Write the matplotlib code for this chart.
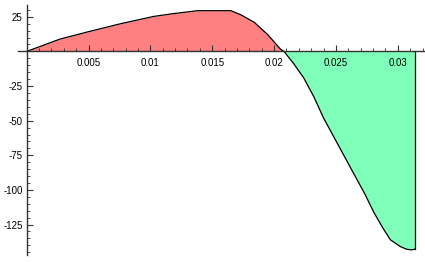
import numpy as np
import matplotlib
matplotlib.use("Agg")
import matplotlib.pyplot as plt
from matplotlib.ticker import MultipleLocator, FixedLocator

plt.rcParams['axes.unicode_minus'] = False

# curve
xs = [0.0, 0.0011, 0.0027, 0.0049, 0.0076, 0.0103, 0.0118, 0.0130, 0.0138,
      0.0165, 0.0173, 0.0184, 0.0195, 0.0205, 0.0208,
      0.0216, 0.0224, 0.0232, 0.0240, 0.0251, 0.0262, 0.0273, 0.0281,
      0.0288, 0.0294, 0.0302, 0.0307, 0.0311, 0.0314]
ys = [0.0, 3.6, 8.9, 14.0, 20.0, 25.3, 27.2, 28.5, 29.4,
      29.4, 26.5, 21.0, 12.0, 1.8, 0.0,
      -9.0, -19.2, -32.5, -48.1, -66.2, -84.3, -102.3, -116.8,
      -127.6, -136.0, -140.9, -142.8, -143.3, -142.8]

xticks = [0.005, 0.01, 0.015, 0.02, 0.025, 0.03]
xtick_labels = ["0.005", "0.01", "0.015", "0.02", "0.025", "0.03"]
yticks = [25, -25, -50, -75, -100, -125]

fig = plt.figure(figsize=(4.25, 2.62), dpi=100)
ax = fig.add_axes([18 / 425, 7 / 262, 407 / 425, 250 / 262])

x = np.array(xs)
y = np.array(ys)
ax.fill_between(x, y, 0, where=y >= 0, interpolate=True, color="#ff8080", lw=0)
ax.fill_between(x, y, 0, where=y <= 0, interpolate=True, color="#80ffbb", lw=0)
ax.plot(x, y, color="black", lw=0.9)
ax.plot([xs[-1], xs[-1]], [0, ys[-1]], color="black", lw=0.9)

ax.set_xlim(-0.0007, 0.0322)
ax.set_ylim(-147, 33.5)

for s in ["top", "right"]:
    ax.spines[s].set_visible(False)
ax.spines["left"].set_position(("data", 0))
ax.spines["bottom"].set_position(("data", 0))
ax.spines["left"].set_linewidth(1.0)
ax.spines["bottom"].set_linewidth(1.0)
ax.spines["left"].set_color("#333333")
ax.spines["bottom"].set_color("#333333")

ax.xaxis.set_major_locator(FixedLocator(xticks))
ax.set_xticklabels(xtick_labels)
ax.xaxis.set_minor_locator(MultipleLocator(0.001))
ax.yaxis.set_major_locator(FixedLocator(yticks))
ax.yaxis.set_minor_locator(MultipleLocator(5))

for lab in ax.get_xticklabels() + ax.get_yticklabels():
    lab.set_family("Liberation Sans")

ax.tick_params(axis="x", which="major", direction="in", length=4, width=0.8,
               labelsize=7, pad=5, colors="#333333", labelcolor="black")
ax.tick_params(axis="x", which="minor", direction="in", length=2, width=0.6, colors="#333333")
ax.tick_params(axis="y", which="major", direction="in", length=4, width=0.8,
               labelsize=7, pad=3, colors="#333333", labelcolor="black")
ax.tick_params(axis="y", which="minor", direction="in", length=2, width=0.6, colors="#333333")

ax.set_facecolor("white")
fig.savefig("out.png", dpi=100)
